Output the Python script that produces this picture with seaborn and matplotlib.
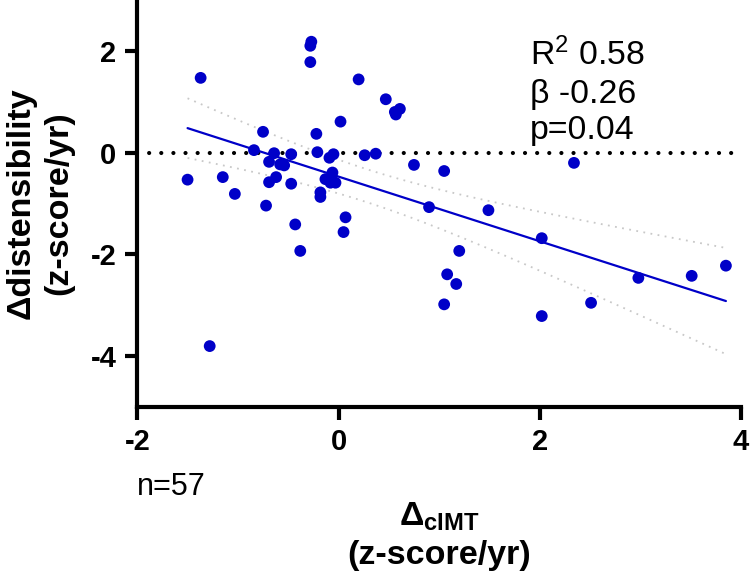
import numpy as np
import pandas as pd
import matplotlib
matplotlib.use("Agg")
import matplotlib.pyplot as plt
import seaborn as sns

# ---- data ----
delta_cimt = [-1.37, -0.27, -0.28, -0.28, 0.20, 0.47, 0.57, 0.61, 0.56, 0.02,
              -0.75, -0.22, -0.84, -0.64, -0.47, -0.21, -0.09, -0.05, 0.26, 0.37,
              0.75, -1.50, -1.15, -1.03, -0.69, -0.58, -0.54, -0.69, -0.62, -0.47,
              -0.06, -0.13, -0.08, -0.03, -0.18, -0.18, -0.72, -0.43, -0.38, 0.07,
              0.05, -1.28, 0.90, 1.49, 2.02, 1.20, 1.08, 1.17, 1.05, 2.02,
              2.51, 2.98, 3.51, 3.85, 1.05, 2.34]
delta_dist = [1.47, 2.18, 2.10, 1.78, 1.44, 1.05, 0.75, 0.86, 0.80, 0.61,
              0.41, 0.37, 0.05, -0.01, -0.03, 0.01, -0.10, -0.03, -0.05, -0.02,
              -0.24, -0.53, -0.48, -0.81, -0.18, -0.23, -0.25, -0.58, -0.48, -0.61,
              -0.39, -0.52, -0.59, -0.59, -0.78, -0.87, -1.04, -1.41, -1.93, -1.27,
              -1.56, -3.80, -1.07, -1.13, -1.68, -1.93, -2.39, -2.58, -2.98, -3.21,
              -2.95, -2.46, -2.42, -2.22, -0.36, -0.20]
# fitted line as drawn in the reference (intercept, slope)
fit_intercept = -0.47
fit_slope = -0.635
stats_lines = ["R$^2$ 0.58", "β -0.26", "p=0.04"]
n_label = "n=57"
x_ticks = [-2, 0, 2, 4]
y_ticks = [-4, -2, 0, 2]

df = pd.DataFrame({"cimt": delta_cimt, "dist": delta_dist})

sns.set_theme(style="ticks")
plt.rcParams["font.family"] = ["Liberation Sans", "DejaVu Sans"]
plt.rcParams["mathtext.fontset"] = "custom"
plt.rcParams["mathtext.rm"] = "Liberation Sans"
plt.rcParams["mathtext.bf"] = "Liberation Sans:bold"
plt.rcParams["mathtext.it"] = "Liberation Sans:italic"
plt.rcParams["text.color"] = "black"
plt.rcParams["axes.labelcolor"] = "black"
plt.rcParams["xtick.color"] = "black"
plt.rcParams["ytick.color"] = "black"

BLUE = "#0000c8"
fig = plt.figure(figsize=(7.5, 5.8), dpi=100)
ax = fig.add_axes([0.183, 0.298, 0.805, 0.702])

sns.scatterplot(data=df, x="cimt", y="dist", ax=ax, s=72, color=BLUE,
                edgecolor="none", zorder=3)

# fitted line and its 95% confidence band
x = np.asarray(delta_cimt)
y = np.asarray(delta_dist)
n = len(x)
xs = np.linspace(x.min(), x.max(), 100)
fit = fit_intercept + fit_slope * xs
resid = y - (fit_intercept + fit_slope * x)
s = np.sqrt(np.sum(resid ** 2) / (n - 2))
sxx = np.sum((x - x.mean()) ** 2)
T_CRIT = 2.005
half = T_CRIT * s * np.sqrt(1 / n + (xs - x.mean()) ** 2 / sxx)
sns.lineplot(x=xs, y=fit, ax=ax, color=BLUE, lw=1.6, zorder=2)
for band in (fit + half, fit - half):
    ax.plot(xs, band, color="#c8c8c8", lw=1.3, ls=(0, (1, 3)), zorder=1)

ax.axhline(0, color="black", lw=3, ls=(0, (0.01, 2.9)), dash_capstyle="round", zorder=1)

ax.set_xlim(-2, 4)
ax.set_ylim(-5, 3)
ax.set_xticks(x_ticks)
ax.set_yticks(y_ticks)
ax.set_xticklabels([str(t) for t in x_ticks], fontweight="bold", fontsize=21)
ax.set_yticklabels([str(t) for t in y_ticks], fontweight="bold", fontsize=21)
for side in ("top", "right"):
    ax.spines[side].set_visible(False)
for side in ("left", "bottom"):
    ax.spines[side].set_linewidth(3)
    ax.spines[side].set_color("black")
ax.tick_params(axis="both", length=9, width=3, color="black", pad=6)

ax.set_xlabel(r"$\mathbf{\Delta_{cIMT}}$" + "\n(z-score/yr)", fontsize=24.5,
              fontweight="bold", labelpad=32, linespacing=1.3)
ax.set_ylabel("Δdistensibility\n(z-score/yr)", fontsize=24.5, fontweight="bold",
              labelpad=12, linespacing=1.25)

ax.text(530 / 750, 1 - 38 / 580, "\n".join(stats_lines), transform=fig.transFigure,
        fontsize=24.4, va="top", ha="left", linespacing=1.25)
fig.text(137 / 750, 1 - 487 / 580, n_label, fontsize=22, ha="left", va="center")

fig.savefig("out.png", dpi=100)
